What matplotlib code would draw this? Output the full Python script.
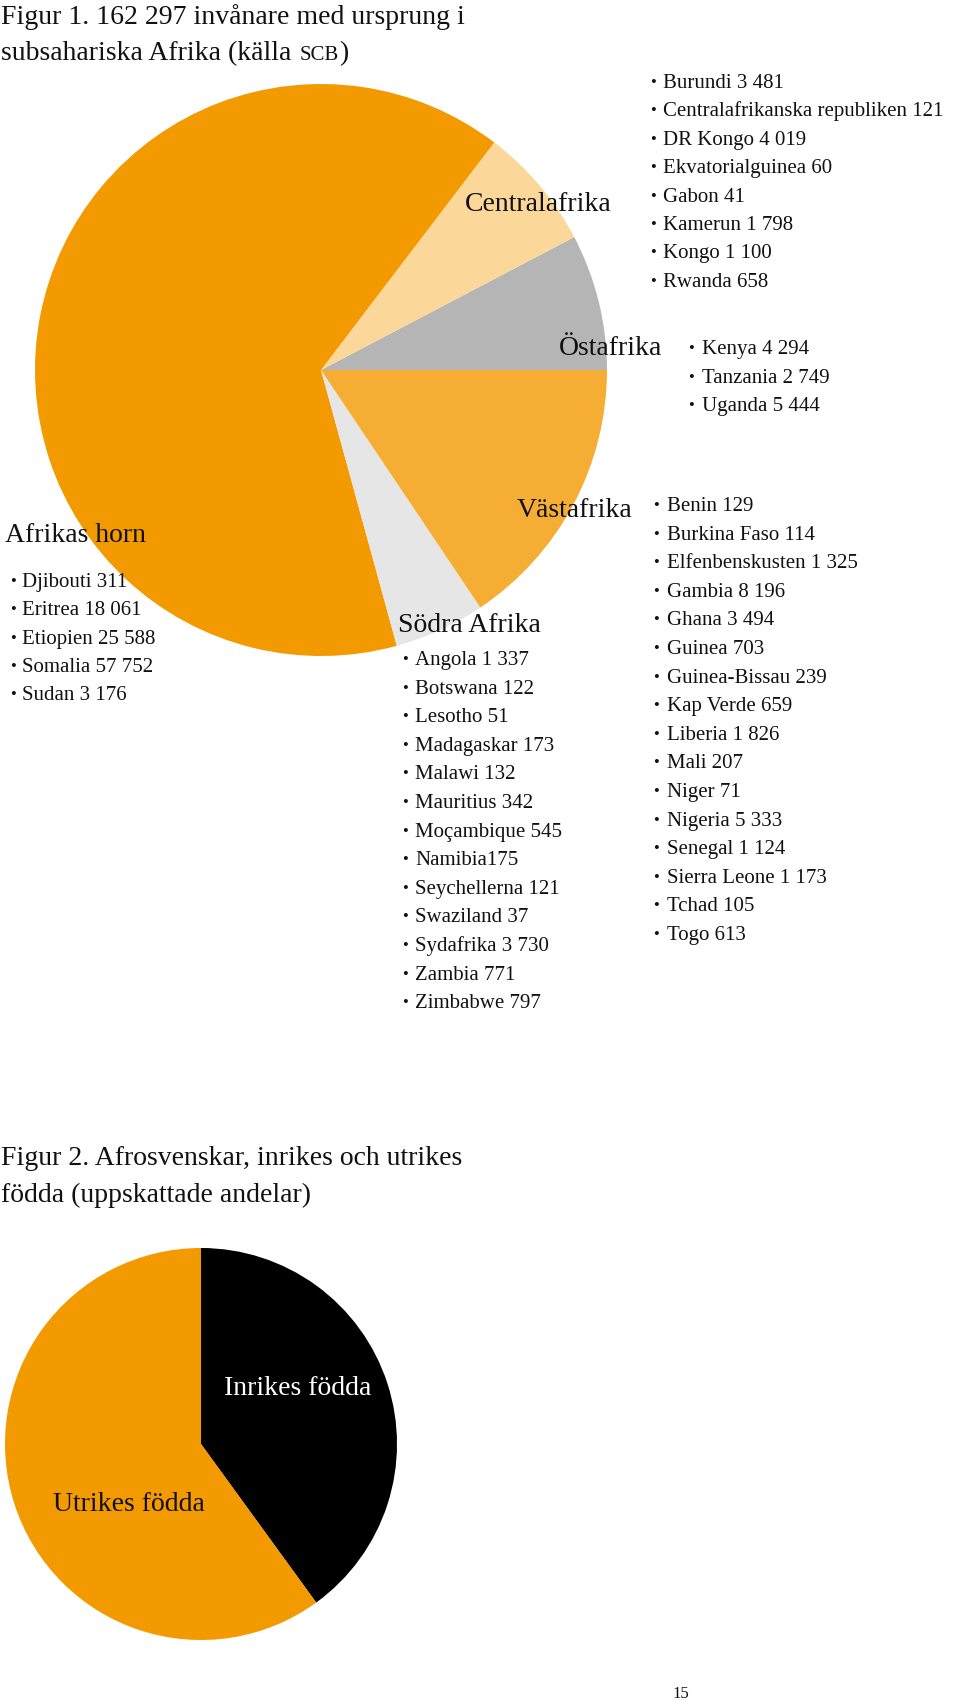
import matplotlib
matplotlib.use("Agg")
import matplotlib.pyplot as plt

plt.rcParams['font.family'] = ['Liberation Serif', 'DejaVu Serif']

# ---- Data ----
regions = ["Östafrika", "Centralafrika", "Afrikas horn", "Södra Afrika", "Västafrika"]

central_countries = ["Burundi", "Centralafrikanska republiken", "DR Kongo", "Ekvatorialguinea",
                     "Gabon", "Kamerun", "Kongo", "Rwanda"]
central_values = [3481, 121, 4019, 60, 41, 1798, 1100, 658]

east_countries = ["Kenya", "Tanzania", "Uganda"]
east_values = [4294, 2749, 5444]

horn_countries = ["Djibouti", "Eritrea", "Etiopien", "Somalia", "Sudan"]
horn_values = [311, 18061, 25588, 57752, 3176]

south_countries = ["Angola", "Botswana", "Lesotho", "Madagaskar", "Malawi", "Mauritius",
                   "Moçambique", "Namibia", "Seychellerna", "Swaziland", "Sydafrika",
                   "Zambia", "Zimbabwe"]
south_values = [1337, 122, 51, 173, 132, 342, 545, 175, 121, 37, 3730, 771, 797]

west_countries = ["Benin", "Burkina Faso", "Elfenbenskusten", "Gambia", "Ghana", "Guinea",
                  "Guinea-Bissau", "Kap Verde", "Liberia", "Mali", "Niger", "Nigeria",
                  "Senegal", "Sierra Leone", "Tchad", "Togo"]
west_values = [129, 114, 1325, 8196, 3494, 703, 239, 659, 1826, 207, 71, 5333,
               1124, 1173, 105, 613]

birth_labels = ["Inrikes födda", "Utrikes födda"]
birth_shares = [40, 60]

region_colors = ["#b5b5b5", "#fbd79a", "#f39a00", "#e6e6e6", "#f5ad33"]
birth_colors = ["#000000", "#f29a00"]

# ---- Figure ----
W, H = 960, 1704
fig = plt.figure(figsize=(W / 100, H / 100), dpi=100)
fig.patch.set_facecolor("white")


def pie_axes(cx, cy, r):
    return fig.add_axes([(cx - r) / W, 1 - (cy + r) / H, 2 * r / W, 2 * r / H])


totals = [sum(east_values), sum(central_values), sum(horn_values),
          sum(south_values), sum(west_values)]

ax1 = pie_axes(321, 370, 286)
ax1.pie(totals, colors=region_colors, startangle=0, counterclock=True,
        wedgeprops=dict(linewidth=0))
ax1.set_xlim(-1, 1)
ax1.set_ylim(-1, 1)
ax1.axis("off")

ax2 = pie_axes(201, 1444, 196)
ax2.pie(birth_shares, colors=birth_colors, startangle=90, counterclock=False,
        wedgeprops=dict(linewidth=0))
ax2.set_xlim(-1, 1)
ax2.set_ylim(-1, 1)
ax2.axis("off")

# overlay axes in pixel coordinates for text
ax = fig.add_axes([0, 0, 1, 1], zorder=5)
ax.set_xlim(0, W)
ax.set_ylim(H, 0)
ax.axis("off")

TITLE = 20
LABEL = 20
ITEM = 15
INK = "#111111"


def fmt(v):
    return f"{v:,}".replace(",", " ")


def item(xb, xt, y, label):
    ax.text(xb, y - 1, "•", fontsize=12, ha="left", va="baseline", color=INK)
    ax.text(xt, y, label, fontsize=ITEM, ha="left", va="baseline", color=INK)


def blist(x_bullet, x_text, y0, dy, names, values):
    for i, (n, v) in enumerate(zip(names, values)):
        sep = "" if n == "Namibia" else " "
        item(x_bullet, x_text, y0 + i * dy, f"{n}{sep}{fmt(v)}")


# Titles
ax.text(1, 24, "Figur 1. 162 297 invånare med ursprung i", fontsize=TITLE, va="baseline",
        color=INK)
t_a = ax.text(1, 60, "subsahariska Afrika (källa ", fontsize=TITLE, va="baseline", color=INK)
renderer = fig.canvas.get_renderer()
inv = ax.transData.inverted()
x_end = inv.transform(t_a.get_window_extent(renderer).get_points())[1][0]
t_b = ax.text(x_end + 1, 60, "SCB", fontsize=15, va="baseline", color=INK)
x_end2 = inv.transform(t_b.get_window_extent(renderer).get_points())[1][0]
ax.text(x_end2 + 1, 60, ")", fontsize=TITLE, va="baseline", color=INK)

# Region labels
ax.text(612, 211, regions[1], fontsize=LABEL, ha="right", va="baseline", color=INK)
ax.text(662, 355, regions[0], fontsize=LABEL, ha="right", va="baseline", color=INK)
ax.text(5, 542, regions[2], fontsize=LABEL, ha="left", va="baseline", color=INK)
ax.text(398, 632, regions[3], fontsize=LABEL, ha="left", va="baseline", color=INK)
ax.text(632, 517, regions[4], fontsize=LABEL, ha="right", va="baseline", color=INK)

# Lists
blist(650, 663, 88, 28.4, central_countries, central_values)
blist(688, 702, 354, 28.7, east_countries, east_values)
blist(10, 22, 587, 28.3, horn_countries, horn_values)
blist(402, 415, 665, 28.6, south_countries, south_values)
blist(653, 667, 511, 28.6, west_countries, west_values)

# Figure 2
ax.text(1, 1165, "Figur 2. Afrosvenskar, inrikes och utrikes", fontsize=TITLE, va="baseline",
        color=INK)
ax.text(1, 1202, "födda (uppskattade andelar)", fontsize=TITLE, va="baseline", color=INK)
ax.text(224, 1395, birth_labels[0], fontsize=LABEL, ha="left", va="baseline", color="white")
ax.text(53, 1511, birth_labels[1], fontsize=LABEL, ha="left", va="baseline", color=INK)

# page number
ax.text(672, 1698, "15", fontsize=12, ha="left", va="baseline", color=INK)

fig.savefig("out.png", dpi=100, facecolor="white")
